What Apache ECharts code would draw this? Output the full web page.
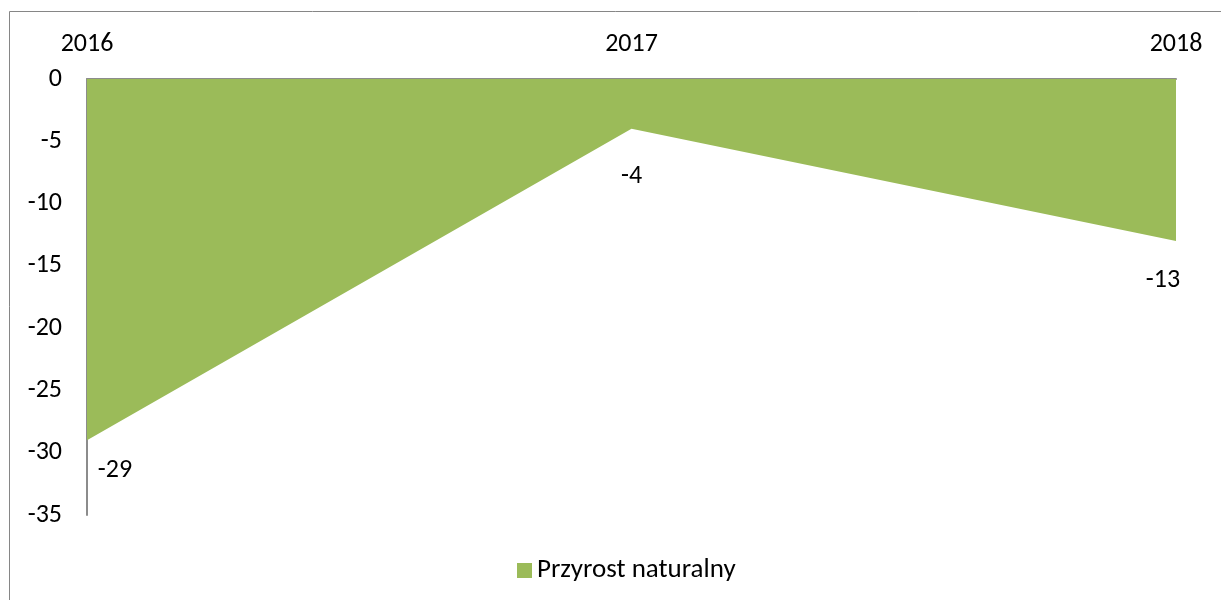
<!DOCTYPE html>
<html>
<head>
<meta charset="utf-8">
<style>
  html, body { margin: 0; padding: 0; background: #fff; }
  #chart { width: 1221px; height: 600px; }
</style>
<script src="https://cdn.jsdelivr.net/npm/echarts@6/dist/echarts.min.js"></script>
</head>
<body>
<div id="chart"></div>
<script>
const years = ['2016', '2017', '2018'];
const values = [-29, -4, -13];
const seriesName = 'Przyrost naturalny';
const yTicks = [0, -5, -10, -15, -20, -25, -30, -35];

const font = 'Carlito, Calibri, Lato, sans-serif';
const labelOffsets = [[28, 30], [0, 48], [-13, 40]];

const myChart = echarts.init(document.querySelector('#chart'));

myChart.setOption({
  animation: false,
  textStyle: { fontFamily: font },
  graphic: [
    {
      type: 'rect',
      shape: { x: 9.5, y: 11.5, width: 1240, height: 620 },
      style: { fill: 'none', stroke: '#868686', lineWidth: 1 },
      silent: true
    }
  ],
  grid: { left: 87, right: 45, top: 79, bottom: 85, containLabel: false },
  legend: {
    top: 552,
    left: 512,
    itemWidth: 15,
    itemHeight: 15,
    itemGap: 6,
    icon: 'rect',
    textStyle: { fontSize: 27, color: '#000', fontFamily: font },
    data: [seriesName]
  },
  xAxis: {
    type: 'category',
    position: 'top',
    boundaryGap: false,
    data: years,
    axisLine: { lineStyle: { color: '#8c8c8c', width: 2 } },
    axisTick: { show: false },
    axisLabel: { fontSize: 26, color: '#000', margin: 22, fontFamily: font }
  },
  yAxis: {
    type: 'value',
    min: -35,
    max: 0,
    interval: 5,
    axisLine: { show: true, onZero: false, lineStyle: { color: '#8c8c8c', width: 2 } },
    axisTick: { show: false },
    splitLine: { show: false },
    axisLabel: {
      fontSize: 26, color: '#000', margin: 25, fontFamily: font,
      formatter: v => (yTicks.includes(v) ? String(v) : '')
    }
  },
  series: [
    {
      name: seriesName,
      type: 'line',
      data: values.map((v, i) => ({
        value: v,
        label: { offset: labelOffsets[i] }
      })),
      symbol: 'circle',
      symbolSize: 0,
      showSymbol: true,
      lineStyle: { width: 0, color: '#9BBB59' },
      itemStyle: { color: '#9BBB59' },
      areaStyle: { color: '#9BBB59', opacity: 1, origin: 'end' },
      label: {
        show: true,
        position: 'inside',
        fontSize: 26,
        color: '#000',
        fontFamily: font
      }
    }
  ]
});
</script>
</body>
</html>
